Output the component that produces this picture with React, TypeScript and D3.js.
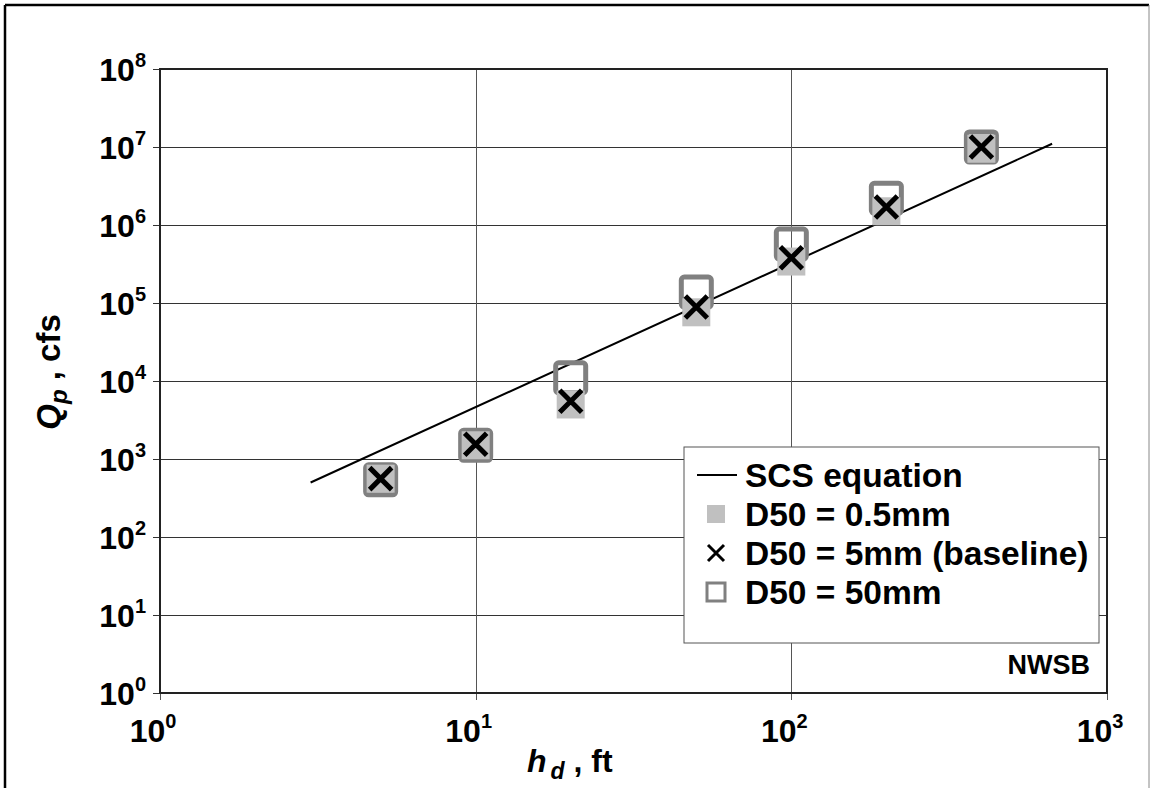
import React from "react";
import * as d3 from "d3";

const hd = [5, 10, 20, 50, 100, 200, 400];
const qFine = [560, 1500, 5000, 76000, 340000, 1500000, 9500000]; // D50 = 0.5mm
const qBase = [560, 1550, 5500, 89000, 380000, 1700000, 10000000]; // D50 = 5mm
const qCoarse = [540, 1500, 11000, 138000, 570000, 2200000, 10000000]; // D50 = 50mm
const scsHd = [3, 670];
const scsQ = [500, 11000000];
const xTicks = [1, 10, 100, 1000];
const yTicks = [1, 10, 100, 1000, 1e4, 1e5, 1e6, 1e7, 1e8];
const legendLabels = ["SCS equation", "D50 = 0.5mm", "D50 = 5mm (baseline)", "D50 = 50mm"];

const W = 1150, H = 788;
const L = 160, R = 1107, T = 69, B = 693;
const FONT = "'Liberation Sans', Arial, sans-serif";

export default function App() {
  const x = d3.scaleLog().domain([1, 1000]).range([L, R]);
  const y = d3.scaleLog().domain([1, 1e8]).range([B, T]);
  const line = d3.line<number>().x((_, i) => x(scsHd[i])).y((d) => y(d));
  const exp = (v: number) => Math.round(Math.log10(v));

  const cross = (cx: number, cy: number, s: number, sw: number, key?: any) => (
    <path key={key} d={`M${cx - s / 2},${cy - s / 2}L${cx + s / 2},${cy + s / 2}M${cx - s / 2},${cy + s / 2}L${cx + s / 2},${cy - s / 2}`} stroke="#000" strokeWidth={sw} fill="none" />
  );

  const lgX = 684, lgY = 447, lgW = 415, lgH = 196;
  const rowY = [475, 514, 553, 592];

  return (
    <svg width={W} height={H} style={{ position: "absolute", left: 0, top: 0, background: "#fff" }} fontFamily={FONT}>
      <rect x={0} y={0} width={W} height={H} fill="#fff" />
      {/* outer frame */}
      <line x1={5} y1={5} x2={1149} y2={5} stroke="#000" strokeWidth={2.5} />
      <line x1={5} y1={5} x2={5} y2={H} stroke="#000" strokeWidth={2.5} />
      <line x1={1149} y1={5} x2={1149} y2={H} stroke="#888" strokeWidth={1} />

      {/* grid */}
      {yTicks.map((t) => (
        <line key={"gy" + t} x1={L} x2={R} y1={Math.round(y(t)) + 0.5} y2={Math.round(y(t)) + 0.5} stroke="#333" strokeWidth={1} />
      ))}
      {xTicks.map((t) => (
        <line key={"gx" + t} x1={Math.round(x(t)) + 0.5} x2={Math.round(x(t)) + 0.5} y1={T} y2={B} stroke="#555" strokeWidth={1} />
      ))}
      {/* ticks */}
      {yTicks.map((t) => (
        <line key={"ty" + t} x1={153} x2={L} y1={Math.round(y(t)) + 0.5} y2={Math.round(y(t)) + 0.5} stroke="#333" strokeWidth={1} />
      ))}
      {xTicks.map((t) => (
        <line key={"tx" + t} x1={Math.round(x(t)) + 0.5} x2={Math.round(x(t)) + 0.5} y1={B} y2={B + 7} stroke="#555" strokeWidth={1} />
      ))}
      {/* plot border */}
      <rect x={L} y={T} width={R - L} height={B - T} fill="none" stroke="#222" strokeWidth={2} />

      {/* y tick labels */}
      {yTicks.map((t) => (
        <text key={"ly" + t} x={146} y={y(t) + 12} textAnchor="end" fontWeight="bold" fontSize={32} fill="#000">
          10<tspan fontSize={20} dy={-14}>{exp(t)}</tspan>
        </text>
      ))}
      {/* x tick labels */}
      {xTicks.map((t) => (
        <text key={"lx" + t} x={x(t) - 7} y={742} textAnchor="middle" fontWeight="bold" fontSize={32} fill="#000">
          10<tspan fontSize={20} dy={-14}>{exp(t)}</tspan>
        </text>
      ))}

      {/* axis titles */}
      <text x={527} y={772} fontWeight="bold" fontSize={32} fill="#000">
        <tspan fontStyle="italic">h</tspan>
        <tspan fontStyle="italic" fontSize={23} dy={7} dx={4}>d</tspan>
        <tspan dy={-7}> , ft</tspan>
      </text>
      <text transform={`translate(60,${372}) rotate(-90)`} textAnchor="middle" fontWeight="bold" fontSize={33} fill="#000">
        <tspan fontStyle="italic">Q</tspan>
        <tspan fontStyle="italic" fontSize={24} dy={7}>p</tspan>
        <tspan dy={-7}> , cfs</tspan>
      </text>

      {/* SCS line */}
      <path d={line(scsQ) || ""} fill="none" stroke="#000" strokeWidth={2} />

      {/* D50 = 50mm open squares */}
      {hd.map((h, i) => (
        <rect key={"c" + i} x={x(h) - 15} y={y(qCoarse[i]) - 15} width={30} height={30} rx={3} fill="none" stroke="#808080" strokeWidth={5} />
      ))}
      {/* D50 = 0.5mm filled squares */}
      {hd.map((h, i) => (
        <rect key={"f" + i} x={x(h) - 14} y={y(qFine[i]) - 14} width={28} height={28} fill="#c0c0c0" />
      ))}
      {/* D50 = 5mm X */}
      {hd.map((h, i) => cross(x(h), y(qBase[i]), 22, 5, "b" + i))}

      {/* legend */}
      <rect x={lgX} y={lgY} width={lgW} height={lgH} fill="#fff" stroke="#555" strokeWidth={1} />
      <line x1={697} x2={737} y1={rowY[0]} y2={rowY[0]} stroke="#000" strokeWidth={2} />
      <rect x={707} y={rowY[1] - 9} width={18} height={18} fill="#c0c0c0" />
      {cross(716, rowY[2], 16, 3)}
      <rect x={707} y={rowY[3] - 9} width={18} height={18} fill="none" stroke="#808080" strokeWidth={3} />
      {legendLabels.map((l, i) => (
        <text key={l} x={745} y={rowY[i] + 12} fontWeight="bold" fontSize={33.5} fill="#000">{l}</text>
      ))}

      <text x={1090} y={674} textAnchor="end" fontWeight="bold" fontSize={27} fill="#000">NWSB</text>
    </svg>
  );
}
